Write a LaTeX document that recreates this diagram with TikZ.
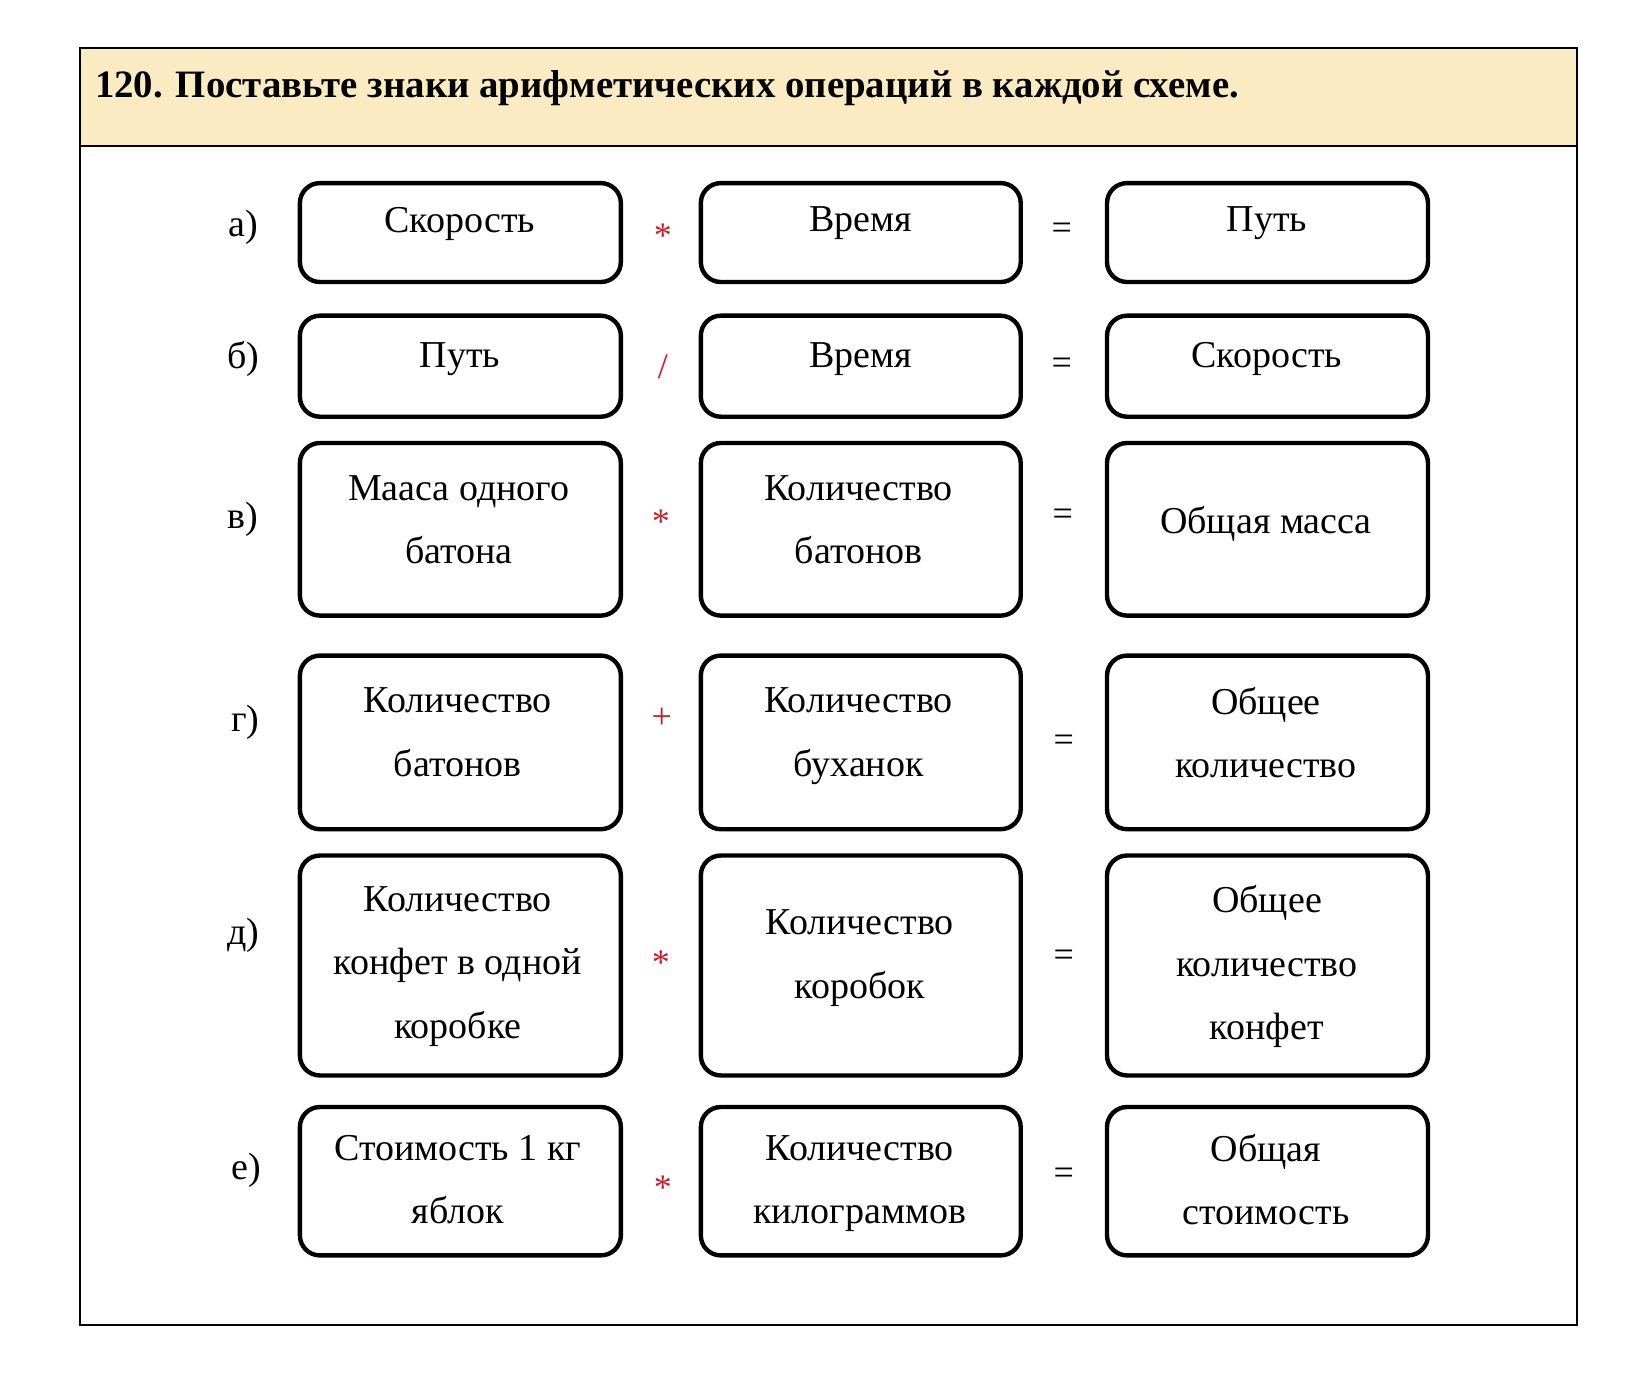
\documentclass[tikz,border=0pt]{standalone}
\usepackage{fontspec}
\setmainfont{Liberation Serif}
\usetikzlibrary{positioning,fit}
\definecolor{cream}{HTML}{FAEBC3}
\definecolor{opred}{HTML}{C8202A}
\tikzset{
  cell/.style={rectangle,rounded corners=10pt,draw=black,line width=2.2pt,inner sep=0pt},
  celltext/.style={font=\fontsize{19}{31.6}\selectfont,align=center,inner sep=0pt,text depth=0.25em},
  tag/.style={font=\fontsize{19}{20}\selectfont,inner sep=0pt},
  sign/.style={font=\fontsize{18}{20}\selectfont,text=opred,inner sep=0pt},
  eqsign/.style={font=\fontsize{18}{20}\selectfont,inner sep=0pt}
}

\begin{document}
\begin{tikzpicture}[x=0.526pt,y=-0.526pt]
\useasboundingbox (0,0) rectangle (1568,1306);
% frame and header
\fill[cream] (76,46) rectangle (1499,139);
\draw[line width=1pt] (76,46) rectangle (1499,1259);
\draw[line width=1pt] (76,139) -- (1499,139);
\node[anchor=base west,inner sep=0pt,font=\bfseries\fontsize{19.4}{20}\selectfont] (title) at (90,93)
  {120. Поставьте знаки арифметических операций в каждой схеме.};

% row a
\node[cell,fit={(285,174) (590,268)}] (a1) {};
\node[cell,fit={(666,174) (970,268)}] (a2) {};
\node[cell,fit={(1052,174) (1357,268)}] (a3) {};
\node[celltext] (a1t) at (437,211) {Скорость};
\node[celltext] (a2t) at (818,211) {Время};
\node[celltext] (a3t) at (1204,211) {Путь};
\node[tag] (la) at (231,216) {а)};
\node[sign] (sa) at (630,224) {*};
\node[eqsign] (ea) at (1009,220) {=};

% row b
\node[cell,fit={(285,300) (590,396)}] (b1) {};
\node[cell,fit={(666,300) (970,396)}] (b2) {};
\node[cell,fit={(1052,300) (1357,396)}] (b3) {};
\node[celltext] (b1t) at (437,340) {Путь};
\node[celltext] (b2t) at (818,340) {Время};
\node[celltext] (b3t) at (1204,340) {Скорость};
\node[tag] (lb) at (231,341) {б)};
\node[sign] (sb) at (630,349) {/};
\node[eqsign] (eb) at (1009,348) {=};

% row c
\node[cell,fit={(285,421) (590,585)}] (c1) {};
\node[cell,fit={(666,421) (970,585)}] (c2) {};
\node[cell,fit={(1052,421) (1357,585)}] (c3) {};
\node[celltext] (c1t) at (436,496) {Мааса одного\\батона};
\node[celltext] (c2t) at (816,496) {Количество\\батонов};
\node[celltext] (c3t) at (1203,496) {Общая масса};
\node[tag] (lc) at (231,494) {в)};
\node[sign] (sc) at (628,496) {*};
\node[eqsign] (ec) at (1010,492) {=};

% row d
\node[cell,fit={(285,623) (590,788)}] (d1) {};
\node[cell,fit={(666,623) (970,788)}] (d2) {};
\node[cell,fit={(1052,623) (1357,788)}] (d3) {};
\node[celltext] (d1t) at (435,698) {Количество\\батонов};
\node[celltext] (d2t) at (816,698) {Количество\\буханок};
\node[celltext] (d3t) at (1203,698) {Общее\\количество};
\node[tag] (ld) at (233,686) {г)};
\node[sign] (sd) at (629,683) {+};
\node[eqsign] (ed) at (1011,706) {=};

% row e
\node[cell,fit={(285,813) (590,1022)}] (e1) {};
\node[cell,fit={(666,813) (970,1022)}] (e2) {};
\node[cell,fit={(1052,813) (1357,1022)}] (e3) {};
\node[celltext] (e1t) at (435,917) {Количество\\конфет в одной\\коробке};
\node[celltext] (e2t) at (817,909) {Количество\\коробок};
\node[celltext] (e3t) at (1204,917) {Общее\\количество\\конфет};
\node[tag] (le) at (231,889) {д)};
\node[sign] (se) at (628,915) {*};
\node[eqsign] (ee) at (1011,911) {=};

% row f
\node[cell,fit={(285,1052) (590,1193)}] (f1) {};
\node[cell,fit={(666,1052) (970,1193)}] (f2) {};
\node[cell,fit={(1052,1052) (1357,1193)}] (f3) {};
\node[celltext] (f1t) at (435,1123) {Стоимость 1 кг\\яблок};
\node[celltext] (f2t) at (817,1123) {Количество\\килограммов};
\node[celltext] (f3t) at (1203,1123) {Общая\\стоимость};
\node[tag] (lf) at (234,1112) {е)};
\node[sign] (sf) at (630,1129) {*};
\node[eqsign] (ef) at (1011,1118) {=};
\end{tikzpicture}
\end{document}
